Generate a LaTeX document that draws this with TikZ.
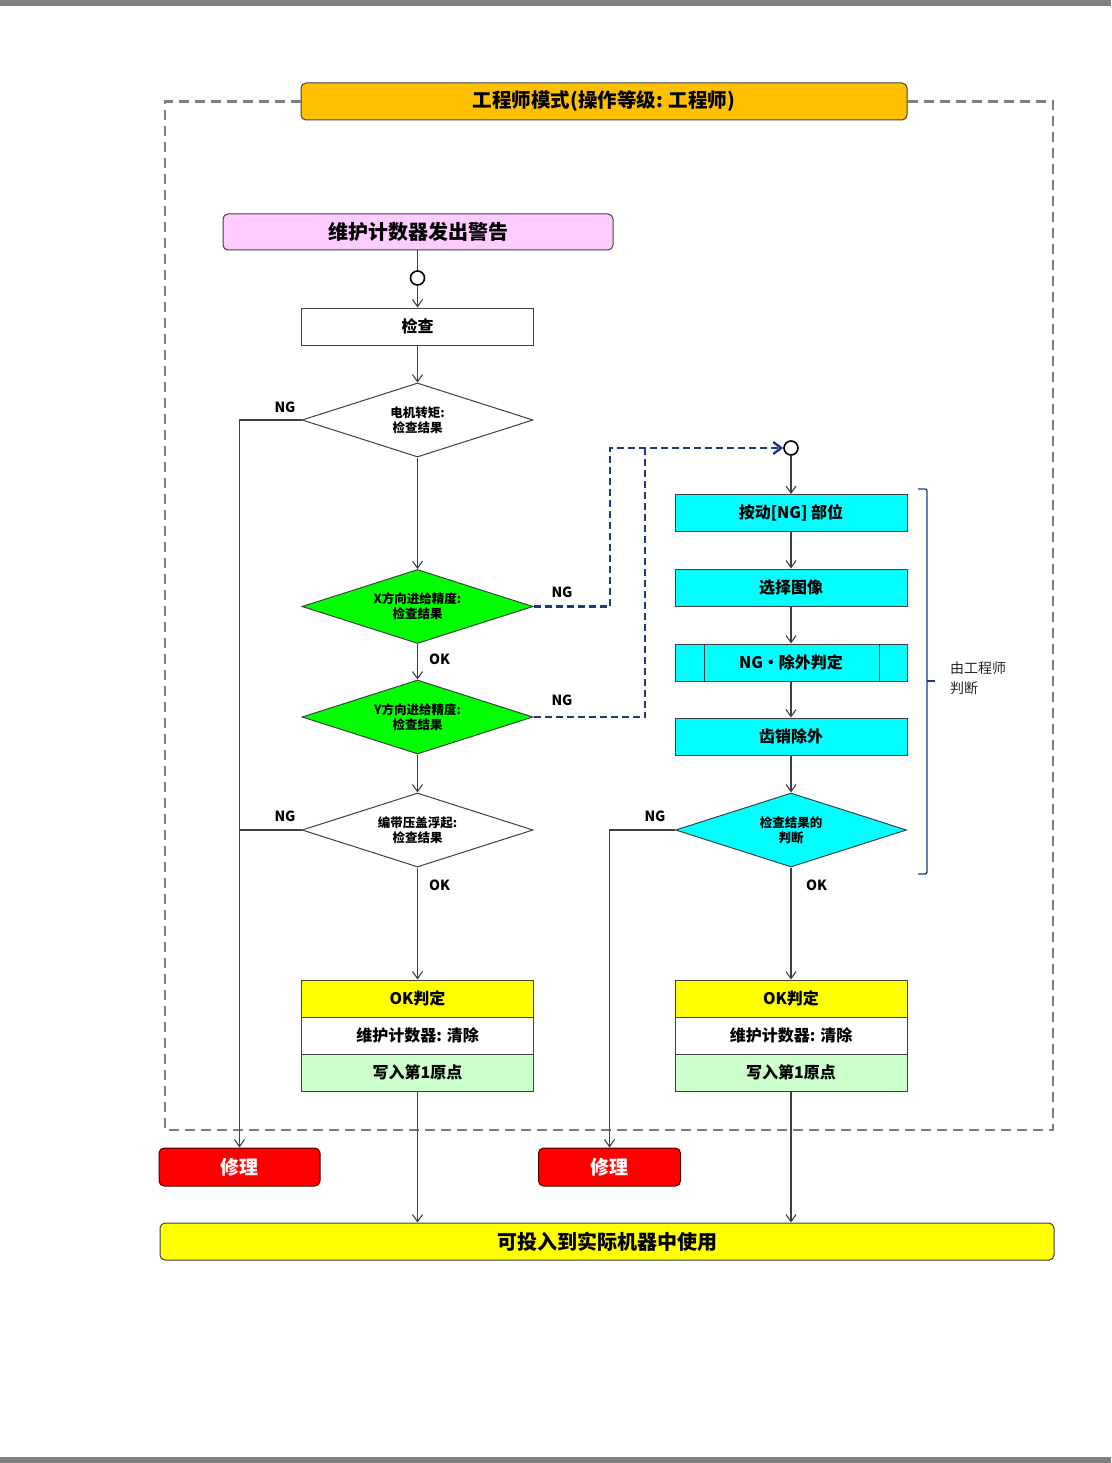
\documentclass[tikz,border=0pt]{standalone}
\usepackage{fontspec}
\setmainfont{Noto Sans CJK SC}
\usetikzlibrary{shapes.geometric,arrows.meta,calc}
\definecolor{cOrange}{HTML}{FFC000}
\definecolor{cPink}{HTML}{FFCCFF}
\definecolor{cGreen}{HTML}{00FF00}
\definecolor{cCyan}{HTML}{00FFFF}
\definecolor{cYellow}{HTML}{FFFF00}
\definecolor{cLight}{HTML}{CCFFCC}
\definecolor{cRed}{HTML}{FF0000}
\definecolor{cNavy}{HTML}{1F3A7A}
\definecolor{cLine}{HTML}{404040}
\definecolor{cFrame}{HTML}{808080}
\begin{document}
\begin{tikzpicture}[x=1pt,y=-1pt,
  box/.style={draw=cLine, line width=1pt, minimum width=232pt, minimum height=37pt, inner sep=0pt,
    font=\bfseries\fontsize{16}{19}\selectfont},
  rbox/.style={box, rounded corners=5pt},
  dia/.style={diamond, aspect=3.12, draw=cLine, line width=1pt, minimum width=231pt, minimum height=74pt, inner sep=0pt,
    align=center, font=\bfseries\fontsize{12.5}{15}\selectfont},
  conn/.style={draw=cLine, line width=1.1pt, -{Straight Barb[length=7pt,width=10pt]}},
  plain/.style={draw=cLine, line width=1.1pt},
  navy/.style={draw=cNavy, line width=2.4pt, dash pattern=on 7pt off 4pt},
  lbl/.style={font=\bfseries\fontsize{14}{16}\selectfont, inner sep=0pt},
  joint/.style={circle, draw=black, line width=1.6pt, fill=white, minimum size=14pt, inner sep=0pt},
  fixbox/.style={rbox, fill=cRed, draw=black!70!red, text=white, minimum height=38pt, font=\bfseries\fontsize{19}{22}\selectfont}
]
\useasboundingbox (0,0) rectangle (1111,1463);
\fill[cFrame] (0,0) rectangle (1111,6);
\fill[cFrame] (0,1457) rectangle (1111,1463);

% title and frame
\node[rbox, fill=cOrange, minimum width=606pt, font=\bfseries\fontsize{19.5}{22}\selectfont] (title) at (604,101.5) {工程师模式(操作等级: 工程师)};
\draw[draw=cFrame, line width=2.2pt, dash pattern=on 10pt off 6pt] (title.west) -- (165,101.5) -- (165,1130) -- (1053,1130) -- (1053,101.5) -- (title.east);

% left column
\node[rbox, fill=cPink, minimum width=390pt, minimum height=36pt, font=\bfseries\fontsize{20}{23}\selectfont] (warn) at (418,232) {维护计数器发出警告};
\node[joint] (c1) at (417.5,278) {};
\node[box, fill=white] (check) at (417.5,326.5) {检查};
\node[dia, fill=white] (d1) at (417.5,420) {电机转矩:\\检查结果};
\node[dia, fill=cGreen] (dX) at (417.5,606.5) {X方向进给精度:\\检查结果};
\node[dia, fill=cGreen] (dY) at (417.5,717) {Y方向进给精度:\\检查结果};
\node[dia, fill=white] (d3) at (417.5,830) {编带压盖浮起:\\检查结果};
\node[box, fill=cYellow] (okL) at (417.5,998.5) {OK判定};
\node[box, fill=white] (mcL) at (417.5,1035.5) {维护计数器: 清除};
\node[box, fill=cLight] (wrL) at (417.5,1072.5) {写入第1原点};

% right column
\node[joint] (cR) at (791,448) {};
\node[box, fill=cCyan] (b1) at (791,513) {按动[NG] 部位};
\node[box, fill=cCyan] (b2) at (791,587.5) {选择图像};
\node[box, fill=cCyan] (b3) at (791,662.5) {NG・除外判定};
\draw[draw=cLine, line width=1pt] (704,644) -- (704,681) (879,644) -- (879,681);
\node[box, fill=cCyan] (b4) at (791,736.5) {齿销除外};
\node[dia, fill=cCyan] (dR) at (791,830) {检查结果的\\判断};
\node[box, fill=cYellow] (okR) at (791,998.5) {OK判定};
\node[box, fill=white] (mcR) at (791,1035.5) {维护计数器: 清除};
\node[box, fill=cLight] (wrR) at (791,1072.5) {写入第1原点};

% bottom
\node[fixbox, minimum width=161pt] (fixL) at (239.5,1167) {修理};
\node[fixbox, minimum width=142pt] (fixR) at (609.5,1167) {修理};
\node[rbox, fill=cYellow, minimum width=894pt, font=\bfseries\fontsize{20}{23}\selectfont] (use) at (607,1241.5) {可投入到实际机器中使用};

% connectors left
\draw[plain] (warn.south -| c1) -- (c1);
\draw[conn] (c1) -- (check);
\draw[conn] (check) -- (d1);
\draw[conn] (d1) -- (dX);
\draw[conn] (dX) -- (dY);
\draw[conn] (dY) -- (d3);
\draw[conn] (d3) -- (okL);
\draw[conn] (wrL.south) -- (wrL.south |- use.north);
\draw[conn] (d1.west) -| (fixL.north);
\draw[plain] (d3.west) -- (d3.west -| fixL.north);

% connectors right
\draw[conn] (cR) -- (b1);
\draw[conn] (b1) -- (b2);
\draw[conn] (b2) -- (b3);
\draw[conn] (b3) -- (b4);
\draw[conn] (b4) -- (dR);
\draw[conn] (dR) -- (okR);
\draw[conn] (wrR.south) -- (wrR.south |- use.north);
\draw[conn] (dR.west) -| (fixR.north);

% NG dashed links
\coordinate (jx) at (610,448);
\coordinate (jy) at (645,448);
\draw[navy, -{Straight Barb[length=8pt,width=12pt]}] (dX.east) -- (dX.east -| jx) -- (jx) -- (cR.west);
\draw[navy] (dY.east) -- (dY.east -| jy) -- (jy);

% labels
\node[lbl] (ng1) at (285,407) {NG};
\node[lbl] (ng2) at (562,592) {NG};
\node[lbl] (ng3) at (562,700) {NG};
\node[lbl] (ng4) at (285,816) {NG};
\node[lbl] (ng5) at (655,816) {NG};
\node[lbl, anchor=west] (ok1) at (429,659) {OK};
\node[lbl, anchor=west] (ok2) at (429,885) {OK};
\node[lbl, anchor=west] (ok3) at (806,885) {OK};

% bracket
\draw[draw=cNavy, line width=1.3pt, rounded corners=2pt] (918,489) -- (927,489) -- (927,874) -- (918,874);
\draw[draw=cNavy, line width=1.3pt] (927,681) -- (935,681);
\node[anchor=north west, align=left, inner sep=0pt, font=\fontsize{14}{20}\selectfont, text=black!85] (judge) at (950,662) {由工程师\\判断};
\end{tikzpicture}
\end{document}
